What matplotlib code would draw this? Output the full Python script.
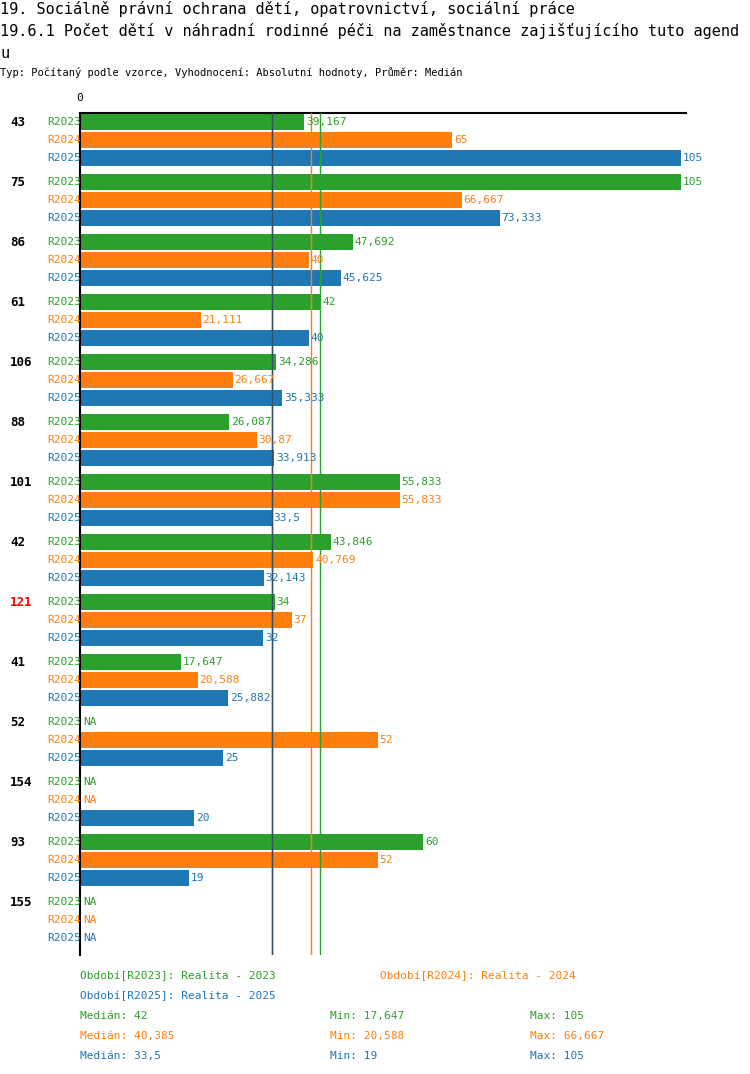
import matplotlib
matplotlib.use("Agg")
import matplotlib.pyplot as plt
import numpy as np

groups = ["43", "75", "86", "61", "106", "88", "101", "42", "121", "41", "52", "154", "93", "155"]
series = ["R2023", "R2024", "R2025"]
r2023 = [39.167, 105, 47.692, 42, 34.286, 26.087, 55.833, 43.846, 34, 17.647, None, None, 60, None]
r2024 = [65, 66.667, 40, 21.111, 26.667, 30.87, 55.833, 40.769, 37, 20.588, 52, None, 52, None]
r2025 = [105, 73.333, 45.625, 40, 35.333, 33.913, 33.5, 32.143, 32, 25.882, 25, 20, 19, None]
medians = [42, 40.385, 33.5]
colors = ["#2ca02c", "#ff7f0e", "#1f77b4"]
footer = [
    ("Období[R2023]: Realita - 2023", "Období[R2024]: Realita - 2024"),
]

W, H = 750, 1074
fig = plt.figure(figsize=(W / 100, H / 100), dpi=100)
plt.rcParams['font.family'] = ['DejaVu Sans Mono']

def fx(px): return px / W
def fy(py): return 1 - py / H

x0, x1 = 80, 686
y0, y1 = 113, 955
ax = fig.add_axes([fx(x0), fy(y1), fx(x1) - fx(x0), fy(y0) - fy(y1)])
scale = (681 - 80) / 105.0
ax.set_xlim(0, (x1 - x0) / scale)
# row pitch 18 px, group pitch 60 px; first bar center at 122
top_px, bot_px = y0, y1
def row_y(g, s): return 122 + g * 60 + s * 18
ax.set_ylim(bot_px, top_px)
for sp in ["right", "bottom"]:
    ax.spines[sp].set_visible(False)
ax.spines["left"].set_linewidth(1.5)
ax.spines["top"].set_linewidth(1.5)
ax.set_xticks([]); ax.set_yticks([])

data = [r2023, r2024, r2025]
tr = ax.get_yaxis_transform()
for g, lab in enumerate(groups):
    for s, vals in enumerate(data):
        v = vals[g]
        y = row_y(g, s)
        if v is not None:
            ax.barh(y, v, height=16, color=colors[s], zorder=2)
            txt = ("%g" % v).replace(".", ",")
            ax.text(v + 0.3, y, txt, color=colors[s], fontsize=8, va="center", ha="left", zorder=4)
        else:
            ax.text(0.5, y, "NA", color=colors[s], fontsize=8, va="center", ha="left", zorder=4)
        fig.text(fx(47), fy(y), series[s], color=colors[s], fontsize=8, va="center", ha="left")
    fig.text(fx(10), fy(row_y(g, 0)), lab, color="red" if lab == "121" else "black",
             fontsize=9, fontweight="bold", va="center", ha="left")

for m, c in zip(medians, colors):
    ax.axvline(m, color=c, lw=1, zorder=3)
ax.axvline(medians[2], color="#33506a", lw=1, zorder=3)

fig.text(fx(80), fy(103), "0", fontsize=8, ha="center", va="bottom")
fig.text(fx(0), fy(9), "19. Sociálně právní ochrana dětí, opatrovnictví, sociální práce", fontsize=11, va="center")
fig.text(fx(0), fy(31), "19.6.1 Počet dětí v náhradní rodinné péči na zaměstnance zajišťujícího tuto agend", fontsize=11, va="center")
fig.text(fx(0), fy(53), "u", fontsize=11, va="center")
fig.text(fx(0), fy(73), "Typ: Počítaný podle vzorce, Vyhodnocení: Absolutní hodnoty, Průměr: Medián", fontsize=7.5, va="center")

fs = 8
fig.text(fx(80), fy(976), "Období[R2023]: Realita - 2023", color=colors[0], fontsize=fs, va="center")
fig.text(fx(380), fy(976), "Období[R2024]: Realita - 2024", color=colors[1], fontsize=fs, va="center")
fig.text(fx(80), fy(996), "Období[R2025]: Realita - 2025", color=colors[2], fontsize=fs, va="center")
stats = [("Medián: 42", "Min: 17,647", "Max: 105"),
         ("Medián: 40,385", "Min: 20,588", "Max: 66,667"),
         ("Medián: 33,5", "Min: 19", "Max: 105")]
for i, (a, b, c) in enumerate(stats):
    y = 1016 + i * 20
    fig.text(fx(80), fy(y), a, color=colors[i], fontsize=fs, va="center")
    fig.text(fx(330), fy(y), b, color=colors[i], fontsize=fs, va="center")
    fig.text(fx(530), fy(y), c, color=colors[i], fontsize=fs, va="center")

fig.savefig("out.png", dpi=100)
